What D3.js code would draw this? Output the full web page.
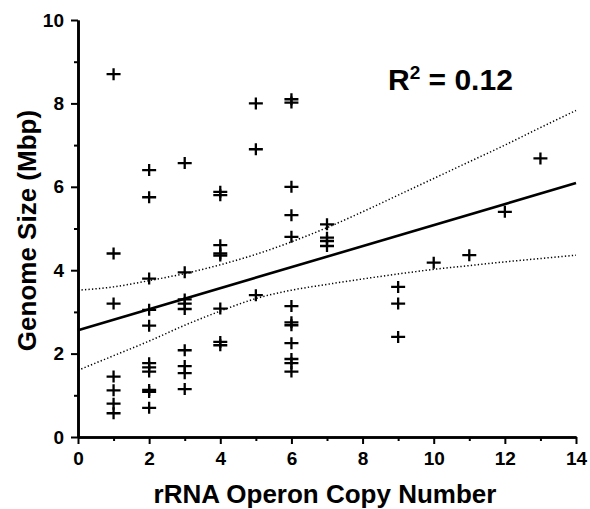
<!DOCTYPE html>
<html>
<head>
<meta charset="utf-8">
<script src="https://cdn.jsdelivr.net/npm/d3@7"></script>
<style>
  body { margin: 0; background: #fff; }
  text { font-family: "Liberation Sans", Arial, sans-serif; font-weight: bold; }
</style>
</head>
<body>
<svg id="chart"></svg>
<script>
let w = 590;
let h = 509;
let m = { left: 78, right: 14, top: 20, bottom: 72 };

// rRNA operon copy number vs genome size (Mbp)
let copyNumber = [
  1, 1, 1, 1, 1, 1, 1,
  2, 2, 2, 2, 2, 2, 2, 2, 2, 2, 2,
  3, 3, 3, 3, 3, 3, 3, 3, 3,
  4, 4, 4, 4, 4, 4, 4, 4,
  5, 5, 5,
  6, 6, 6, 6, 6, 6, 6, 6, 6, 6, 6, 6,
  7, 7, 7, 7,
  9, 9, 9,
  10, 11, 12, 13
];
let genomeSize = [
  8.7, 4.4, 3.2, 1.45, 1.12, 0.8, 0.57,
  6.4, 5.75, 3.8, 3.05, 2.67, 1.77, 1.67, 1.57, 1.13, 1.08, 0.7,
  6.57, 3.95, 3.3, 3.2, 3.07, 2.08, 1.7, 1.53, 1.15,
  5.88, 5.8, 4.6, 4.4, 4.35, 3.08, 2.28, 2.2,
  8.0, 6.9, 3.4,
  8.1, 8.02, 6.0, 5.32, 4.8, 3.14, 2.75, 2.68, 2.25, 1.87, 1.77, 1.57,
  5.1, 4.78, 4.7, 4.58,
  3.6, 3.2, 2.4,
  4.18, 4.36, 5.4, 6.68
];

// regression line and 95% band
let fitX = [0, 14];
let fitY = [2.56, 6.09];
let bandX = [0, 1, 2, 3, 4, 5, 6, 7, 8, 9, 10, 11, 12, 13, 14];
let upperY = [3.52, 3.60, 3.75, 3.92, 4.13, 4.38, 4.68, 5.02, 5.40, 5.80, 6.20, 6.60, 7.00, 7.42, 7.83];
let lowerY = [1.60, 1.95, 2.30, 2.68, 3.02, 3.32, 3.52, 3.66, 3.79, 3.91, 4.02, 4.11, 4.20, 4.28, 4.36];

let xMajor = [0, 2, 4, 6, 8, 10, 12, 14];
let xMinor = [1, 3, 5, 7, 9, 11, 13];
let yMajor = [0, 2, 4, 6, 8, 10];
let yMinor = [1, 3, 5, 7, 9];

let svg = d3.select("#chart").attr("width", w).attr("height", h);

let xScale = d3.scaleLinear().domain([0, 14]).range([m.left, w - m.right]);
let yScale = d3.scaleLinear().domain([0, 10]).range([h - m.bottom, m.top]);

// axes
let styleAxis = (g) => {
  g.select(".domain").attr("stroke-width", 2.6);
  g.selectAll(".tick line").attr("stroke-width", 2);
  g.selectAll(".tick text").style("font-size", "19px").attr("fill", "#000");
};

svg.append("g")
   .attr("transform", `translate(0, ${h - m.bottom})`)
   .call(d3.axisBottom(xScale).tickValues(xMinor).tickSize(4).tickSizeOuter(0).tickFormat(""))
   .call(styleAxis);
svg.append("g")
   .attr("transform", `translate(0, ${h - m.bottom})`)
   .call(d3.axisBottom(xScale).tickValues(xMajor).tickSize(7).tickSizeOuter(0).tickPadding(8))
   .call(styleAxis);

svg.append("g")
   .attr("transform", `translate(${m.left}, 0)`)
   .call(d3.axisLeft(yScale).tickValues(yMinor).tickSize(4).tickSizeOuter(0).tickFormat(""))
   .call(styleAxis);
svg.append("g")
   .attr("transform", `translate(${m.left}, 0)`)
   .call(d3.axisLeft(yScale).tickValues(yMajor).tickSize(7).tickSizeOuter(0).tickPadding(7))
   .call(styleAxis);

// axis titles
svg.append("text")
   .attr("x", (xScale(0) + xScale(14)) / 2 - 2)
   .attr("y", 503)
   .attr("text-anchor", "middle")
   .style("font-size", "26px")
   .text("rRNA Operon Copy Number");

svg.append("text")
   .attr("transform", `translate(36, ${(yScale(0) + yScale(10)) / 2 + 2}) rotate(-90)`)
   .attr("text-anchor", "middle")
   .style("font-size", "26px")
   .text("Genome Size (Mbp)");

// confidence band
let band = (ys) => d3.line()
  .x((d, i) => xScale(bandX[i]))
  .y((d) => yScale(d))
  .curve(d3.curveMonotoneX)(ys);

[upperY, lowerY].forEach((ys) => {
  svg.append("path")
     .attr("d", band(ys))
     .attr("fill", "none")
     .attr("stroke", "#000")
     .attr("stroke-width", 1.5)
     .attr("stroke-dasharray", "1.3,2.2");
});

// regression line
svg.append("path")
   .attr("d", d3.line().x((d, i) => xScale(fitX[i])).y((d) => yScale(d))(fitY))
   .attr("fill", "none")
   .attr("stroke", "#000")
   .attr("stroke-width", 2.6);

// points as "+" markers
svg.selectAll(".pt")
   .data(genomeSize)
   .enter()
   .append("path")
   .attr("class", "pt")
   .attr("transform", (d, i) => `translate(${xScale(copyNumber[i])}, ${yScale(d)})`)
   .attr("d", "M-7,0H7M0,-6V6")
   .attr("stroke", "#000")
   .attr("stroke-width", 2.3)
   .attr("fill", "none");

// R squared label
let r2 = svg.append("text")
   .attr("x", 388)
   .attr("y", 90)
   .style("font-size", "30px");
r2.append("tspan").text("R");
r2.append("tspan").attr("dy", -11).style("font-size", "19px").text("2");
r2.append("tspan").attr("dy", 11).text(" = 0.12");
</script>
</body>
</html>
